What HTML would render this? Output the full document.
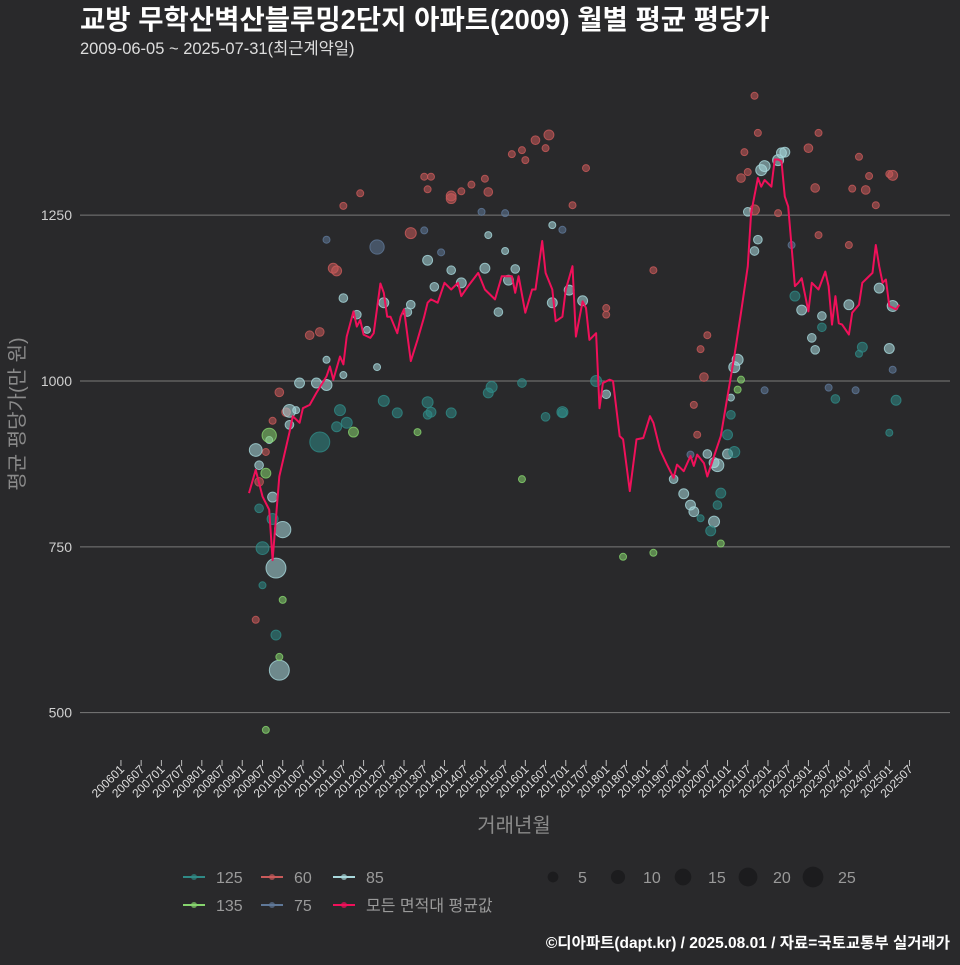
<!DOCTYPE html>
<html><head><meta charset="utf-8">
<style>
html,body{margin:0;padding:0;background:#29292b;}
body{width:960px;height:960px;overflow:hidden;font-family:"Liberation Sans","Noto Sans CJK KR",sans-serif;}
svg text{font-family:"Liberation Sans","Noto Sans CJK KR",sans-serif;}
</style></head>
<body>
<svg id="chart" width="960" height="960" xmlns="http://www.w3.org/2000/svg">
<rect width="960" height="960" fill="#29292b"/>
<text x="80" y="29" font-size="27.5" font-weight="bold" fill="#ffffff">교방 무학산벽산블루밍2단지 아파트(2009) 월별 평균 평당가</text>
<text x="80" y="54" font-size="16.5" fill="#dddddd">2009-06-05 ~ 2025-07-31(최근계약일)</text>
<g id="grid"></g>
<g id="yticks"></g>
<g id="xticks"></g>
<g id="dots"></g>
<g id="line"></g>
<text transform="translate(24,414) rotate(-90)" text-anchor="middle" font-size="20" fill="#8a8a8a">평균 평당가(만 원)</text>
<text x="514" y="832" text-anchor="middle" font-size="20" fill="#8a8a8a">거래년월</text>
<g id="legend"></g>
<text x="950" y="948" text-anchor="end" font-size="15.5" font-weight="bold" fill="#ffffff">©디아파트(dapt.kr) / 2025.08.01 / 자료=국토교통부 실거래가</text>
</svg>
<script>
// month offsets are counted from 2009-03 (axis origin)
const lineMonths=[0,2,3,4,6,7,9,12,13,15,16,18,20,23,24,25,27,28,29,31,32,33,34,36,37,39,40,41,42,44,45,46,48,50,52,53,54,56,58,60,62,63,65,68,70,73,75,78,79,80,82,84,85,87,88,90,91,93,94,96,97,99,100,101,103,104,105,107,108,110,111,113,115,117,119,120,122,124,126,127,129,131,132,133,135,136,138,140,142,144,146,148,149,151,152,153,155,156,157,158,159,160,162,163,164,166,167,169,171,172,173,174,175,176,178,179,181,182,183,185,186,187,188,189,190,192,193];
const lineValues=[831,866,846,826,806,730,856,922,947,937,959,964,982,1007,1022,1002,1037,1025,1067,1105,1082,1092,1070,1065,1072,1147,1133,1097,1097,1072,1097,1108,1030,1062,1097,1118,1123,1118,1148,1138,1148,1128,1143,1163,1138,1123,1158,1158,1133,1158,1103,1138,1138,1211,1163,1138,1090,1097,1138,1173,1067,1120,1110,1062,1072,959,997,1002,1000,917,912,834,912,914,947,937,896,874,854,874,864,887,872,889,876,856,887,917,977,1037,1103,1173,1253,1306,1293,1303,1293,1334,1334,1331,1278,1263,1143,1148,1155,1105,1148,1138,1165,1143,1085,1128,1087,1085,1070,1103,1115,1148,1153,1163,1205,1173,1148,1153,1113,1108,1115];
const dotMonths=[2,3,5,9,7,11,18,21,25,26,28,33,48,52,54,53,60,60,63,70,71,66,78,81,82,85,89,88,100,96,120,106,106,134,136,135,132,133,147,148,150,146,150,151,157,166,168,169,169,181,183,179,190,191,184,178,186,
2,3,8,9,7,10,12,12,6,14,15,20,23,23,28,28,32,35,38,40,48,47,53,55,60,63,70,71,74,77,79,76,90,90,95,99,106,126,129,131,132,136,138,139,138,142,143,144,152,153,157,158,159,150,151,145,148,164,167,168,170,178,187,191,190,
3,4,8,4,7,21,26,29,27,40,44,53,54,53,60,71,72,81,88,93,93,103,142,140,139,134,137,144,143,162,170,174,190,192,181,182,
5,10,9,5,6,31,50,81,111,120,140,145,146,
23,38,52,57,69,76,93,131,153,161,172,180,191];
const dotValues=[640,848,893,983,940,953,1069,1074,1170,1166,1264,1283,1223,1308,1308,1289,1279,1275,1286,1305,1285,1296,1342,1348,1333,1363,1371,1351,1321,1265,1167,1110,1100,1048,1069,1006,964,919,1345,1315,1258,1306,1430,1374,1253,1351,1291,1374,1220,1338,1288,1290,1312,1310,1309,1205,1265,
896,873,718,564,825,776,955,934,911,956,997,997,994,1032,1125,1009,1100,1077,1021,1118,1115,1104,1182,1142,1167,1148,1170,1220,1104,1152,1169,1196,1235,1118,1137,1121,980,852,830,813,803,890,877,873,788,890,975,1021,1318,1324,1333,1344,1345,1196,1213,1032,1255,1107,1065,1047,1098,1115,1140,1113,1049,
808,692,617,748,792,908,931,937,956,970,952,968,953,949,952,982,991,997,946,952,953,1000,919,831,813,793,774,893,949,1128,1081,973,922,971,1041,1051,
861,670,584,474,918,923,923,852,735,741,755,987,1002,
1213,1202,1227,1194,1255,1253,1228,889,986,1205,990,986,1017];
const dotTypes=[...Array(57).fill('60'),...Array(65).fill('85'),...Array(36).fill('125'),...Array(13).fill('135'),...Array(13).fill('75')];
const dotSizes=[1,2,1,2,1,2,2,2,3,3,1,1,4,1,1,1,3,3,1,1,2,1,1,1,1,2,3,1,1,1,1,1,1,1,1,2,1,1,1,1,3,2,1,1,1,2,2,1,1,1,2,1,1,3,1,1,1,
6,2,18,18,3,11,6,2,1,1,3,3,4,1,2,1,2,1,1,3,2,2,3,2,2,3,3,1,2,3,2,1,1,3,3,3,2,2,3,3,3,2,3,6,4,3,1,4,4,4,4,3,3,2,2,4,2,3,2,2,2,3,3,4,3,2,1,3,
6,4,18,3,4,4,4,3,4,3,2,3,3,4,2,2,2,4,4,3,3,2,1,3,4,2,3,2,2,1,3,1,3,3,1,1,
1,8,3,1,1,1,1,1,1,1,1,8,1,
1,1,1,1,1,1,1,1,1,1,1,1,1];
const sizeLegend=[5,10,15,20,25];
const xTickLabels=[];
for(let y=2006;y<=2025;y++){xTickLabels.push(y+'01');xTickLabels.push(y+'07');}
const yTicks=[500,750,1000,1250];
const colors={'125':'#2f8a86','60':'#c95a5a','85':'#a8d8dc','135':'#86d46e','75':'#5f7898'};

const NS='http://www.w3.org/2000/svg';
function mk(tag,attrs,parent){const e=document.createElementNS(NS,tag);for(const k in attrs)e.setAttribute(k,attrs[k]);parent.appendChild(e);return e;}
function xs(m){return 249+m*3.37;}
function ys(v){return 381-(v-1000)*0.6633;}
function rs(s){return 1.5+Math.sqrt(s)*2;}
function labelToOffset(l){const y=+l.slice(0,4),mo=+l.slice(4);return (y-2009)*12+(mo-3);}

const grid=document.getElementById('grid'),yt=document.getElementById('yticks');
yTicks.forEach(v=>{
  const l=mk('line',{x1:80,x2:950,y1:ys(v),y2:ys(v),stroke:'#7a7a7a','stroke-width':1},grid);
  
  
  const t=mk('text',{x:72,y:ys(v)+5,'text-anchor':'end','font-size':14,fill:'#cfcfcf'},yt);
  t.textContent=v;
  
  
});
const xt=document.getElementById('xticks');
xTickLabels.forEach(l=>{
  const x=xs(labelToOffset(l));
  const tk=mk('line',{x1:x,x2:x,y1:760,y2:766,stroke:'#bbbbbb','stroke-width':1},xt);
  
  
  const t=mk('text',{transform:`translate(${x+4},770) rotate(-45)`,'text-anchor':'end','font-size':12,fill:'#dddddd'},xt);
  t.textContent=l;
  
  
});
const dots=document.getElementById('dots');
dotMonths.forEach((m,i)=>{
  const c=mk('circle',{cx:xs(m),cy:ys(dotValues[i]),r:rs(dotSizes[i]),fill:colors[dotTypes[i]],'fill-opacity':0.55,stroke:colors[dotTypes[i]],'stroke-opacity':0.8,'stroke-width':1},dots);
  
  
});
const lg=document.getElementById('line');
const pts=lineMonths.map((m,i)=>xs(m).toFixed(1)+','+ys(lineValues[i]).toFixed(1)).join(' ');
const pl=mk('polyline',{points:pts,fill:'none',stroke:'#f0105a','stroke-width':2,'stroke-linejoin':'round'},lg);



const leg=document.getElementById('legend');
const legItems=[['125',183,877],['60',261,877],['85',333,877],['135',183,905],['75',261,905],['모든 면적대 평균값',333,905]];
const legColors={'125':colors['125'],'60':colors['60'],'85':colors['85'],'135':colors['135'],'75':colors['75'],'모든 면적대 평균값':'#f0105a'};
legItems.forEach(([lab,x,y])=>{
  const g=mk('g',{},leg);
  
  
  mk('line',{x1:x,x2:x+22,y1:y,y2:y,stroke:legColors[lab],'stroke-width':2},g);
  mk('circle',{cx:x+11,cy:y,r:3,fill:legColors[lab],'fill-opacity':0.7},g);
  const t=mk('text',{x:x+33,y:y+6,'font-size':16,fill:'#9a9a9a'},g);
  t.textContent=lab;
});
sizeLegend.forEach((s,i)=>{
  const x=553+i*65;
  const g=mk('g',{},leg);
  
  
  mk('circle',{cx:x,cy:877,r:rs(s)*0.9,fill:'#1c1c1e'},g);
  const t=mk('text',{x:x+25,y:883,'font-size':16,fill:'#9a9a9a'},g);
  t.textContent=s;
});
</script>
</body></html>
